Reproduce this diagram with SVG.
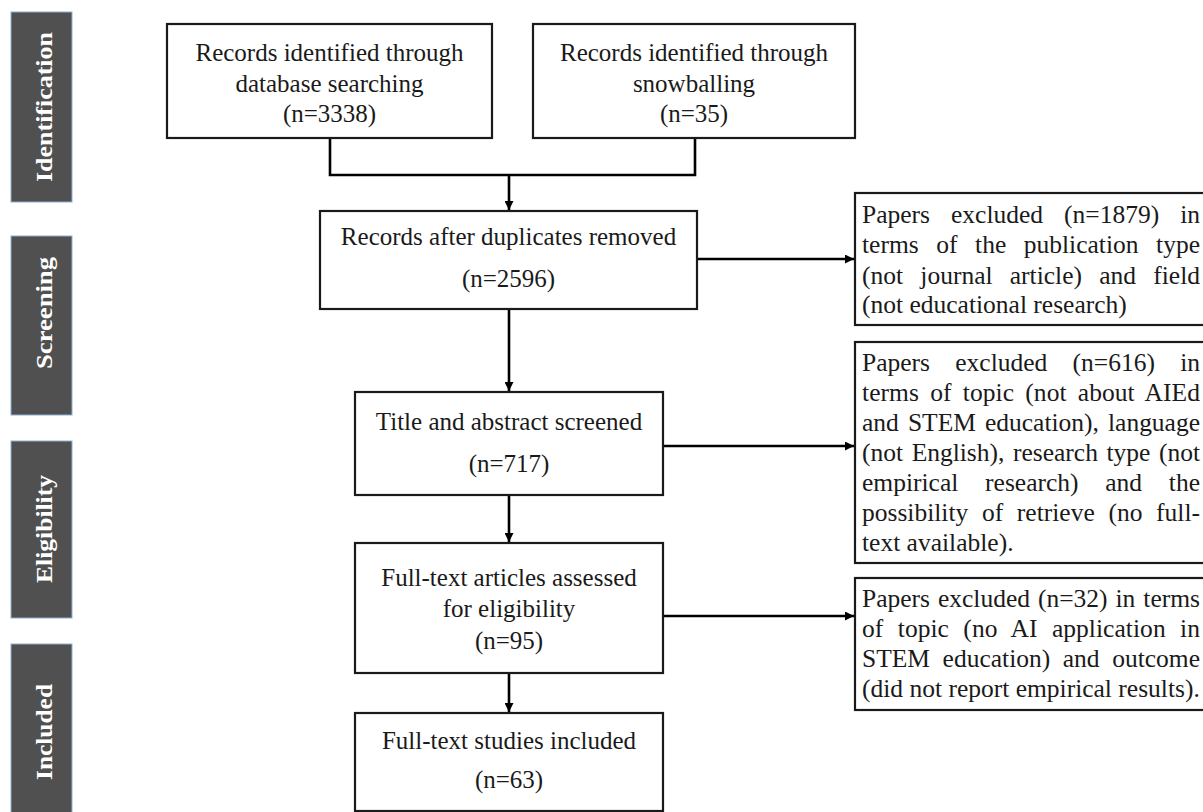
<svg xmlns="http://www.w3.org/2000/svg" width="1203" height="812" viewBox="0 0 1203 812">
<defs>
<style>
.bg{fill:#ffffff}
.box{fill:#ffffff;stroke:#1a1a1a;stroke-width:2.2}
.side{fill:#505050;stroke:#8fb0d6;stroke-width:1}
.st{font-family:"Liberation Serif","Times New Roman",serif;font-weight:bold;font-size:24px;fill:#ffffff;text-anchor:middle}
.t{font-family:"Liberation Serif","Times New Roman",serif;font-size:25px;fill:#1a1a1a;text-anchor:middle}
.r{font-family:"Liberation Serif","Times New Roman",serif;font-size:25.5px;fill:#1a1a1a}
.ln{fill:none;stroke:#000000;stroke-width:2.6}
</style>
<marker id="ah" viewBox="0 0 10 10" refX="10" refY="5" markerWidth="9" markerHeight="9" markerUnits="userSpaceOnUse" orient="auto">
<path d="M0,0 L10,5 L0,10 z" fill="#000000"/>
</marker>
</defs>
<rect class="bg" x="0" y="0" width="1203" height="812"/>

<g id="stage-identification">
<rect class="side" x="11" y="12" width="61" height="190"/>
<text class="st" transform="translate(52,107) rotate(-90)" textLength="150" lengthAdjust="spacingAndGlyphs">Identification</text>
</g>
<g id="stage-screening">
<rect class="side" x="11" y="236" width="61" height="179"/>
<text class="st" transform="translate(52,313) rotate(-90)" textLength="112" lengthAdjust="spacingAndGlyphs">Screening</text>
</g>
<g id="stage-eligibility">
<rect class="side" x="11" y="441" width="61" height="177"/>
<text class="st" transform="translate(52,529) rotate(-90)" textLength="108" lengthAdjust="spacingAndGlyphs">Eligibility</text>
</g>
<g id="stage-included">
<rect class="side" x="11" y="644" width="61" height="190"/>
<text class="st" transform="translate(52,732) rotate(-90)" textLength="96" lengthAdjust="spacingAndGlyphs">Included</text>
</g>

<g id="connectors">
<polyline class="ln" points="330,138 330,175 695,175 695,138"/>
<line class="ln" x1="509" y1="175" x2="509" y2="210" marker-end="url(#ah)"/>
<line class="ln" x1="697" y1="259" x2="854" y2="259" marker-end="url(#ah)"/>
<line class="ln" x1="509" y1="309" x2="509" y2="391" marker-end="url(#ah)"/>
<line class="ln" x1="663" y1="446" x2="854" y2="446" marker-end="url(#ah)"/>
<line class="ln" x1="509" y1="495" x2="509" y2="542" marker-end="url(#ah)"/>
<line class="ln" x1="663" y1="616" x2="854" y2="616" marker-end="url(#ah)"/>
<line class="ln" x1="509" y1="673" x2="509" y2="712" marker-end="url(#ah)"/>
</g>

<g id="node-database">
<rect class="box" x="167" y="24" width="325" height="114"/>
<text class="t" x="329.5" y="61">Records identified through</text>
<text class="t" x="329.5" y="92">database searching</text>
<text class="t" x="329.5" y="122">(n=3338)</text>
</g>
<g id="node-snowballing">
<rect class="box" x="533" y="24" width="322" height="114"/>
<text class="t" x="694" y="61">Records identified through</text>
<text class="t" x="694" y="92">snowballing</text>
<text class="t" x="694" y="122">(n=35)</text>
</g>
<g id="node-duplicates">
<rect class="box" x="320" y="211" width="377" height="98"/>
<text class="t" x="508.5" y="245">Records after duplicates removed</text>
<text class="t" x="508.5" y="287">(n=2596)</text>
</g>
<g id="node-title">
<rect class="box" x="355" y="392" width="308" height="103"/>
<text class="t" x="509" y="430">Title and abstract screened</text>
<text class="t" x="509" y="472">(n=717)</text>
</g>
<g id="node-fulltext">
<rect class="box" x="355" y="543" width="308" height="130"/>
<text class="t" x="509" y="586">Full-text articles assessed</text>
<text class="t" x="509" y="617">for eligibility</text>
<text class="t" x="509" y="649">(n=95)</text>
</g>
<g id="node-included">
<rect class="box" x="355" y="713" width="308" height="98"/>
<text class="t" x="509" y="749">Full-text studies included</text>
<text class="t" x="509" y="788">(n=63)</text>
</g>

<g id="node-excl1">
<rect class="box" x="855" y="193" width="360" height="132"/>
<text class="r" x="862" y="223" word-spacing="14.6" textLength="338" lengthAdjust="spacing">Papers excluded (n=1879) in</text>
<text class="r" x="862" y="253" word-spacing="11.2" textLength="338" lengthAdjust="spacing">terms of the publication type</text>
<text class="r" x="862" y="284" word-spacing="10.8" textLength="338" lengthAdjust="spacing">(not journal article) and field</text>
<text class="r" x="862" y="313">(not educational research)</text>
</g>
<g id="node-excl2">
<rect class="box" x="855" y="342" width="360" height="221"/>
<text class="r" x="862" y="371" word-spacing="18.9" textLength="338" lengthAdjust="spacing">Papers excluded (n=616) in</text>
<text class="r" x="862" y="401" word-spacing="4.8" textLength="338" lengthAdjust="spacing">terms of topic (not about AIEd</text>
<text class="r" x="862" y="431" word-spacing="2.7" textLength="338" lengthAdjust="spacing">and STEM education), language</text>
<text class="r" x="862" y="461" word-spacing="2.2" textLength="338" lengthAdjust="spacing">(not English), research type (not</text>
<text class="r" x="862" y="491" word-spacing="20.4" textLength="338" lengthAdjust="spacing">empirical research) and the</text>
<text class="r" x="862" y="521" word-spacing="7.3" textLength="338" lengthAdjust="spacing">possibility of retrieve (no full-</text>
<text class="r" x="862" y="551">text available).</text>
</g>
<g id="node-excl3">
<rect class="box" x="855" y="578" width="360" height="132"/>
<text class="r" x="862" y="607" word-spacing="1.6" textLength="338" lengthAdjust="spacing">Papers excluded (n=32) in terms</text>
<text class="r" x="862" y="637" word-spacing="8.0" textLength="338" lengthAdjust="spacing">of topic (no AI application in</text>
<text class="r" x="862" y="667" word-spacing="6.2" textLength="338" lengthAdjust="spacing">STEM education) and outcome</text>
<text class="r" x="862" y="697">(did not report empirical results).</text>
</g>
</svg>
